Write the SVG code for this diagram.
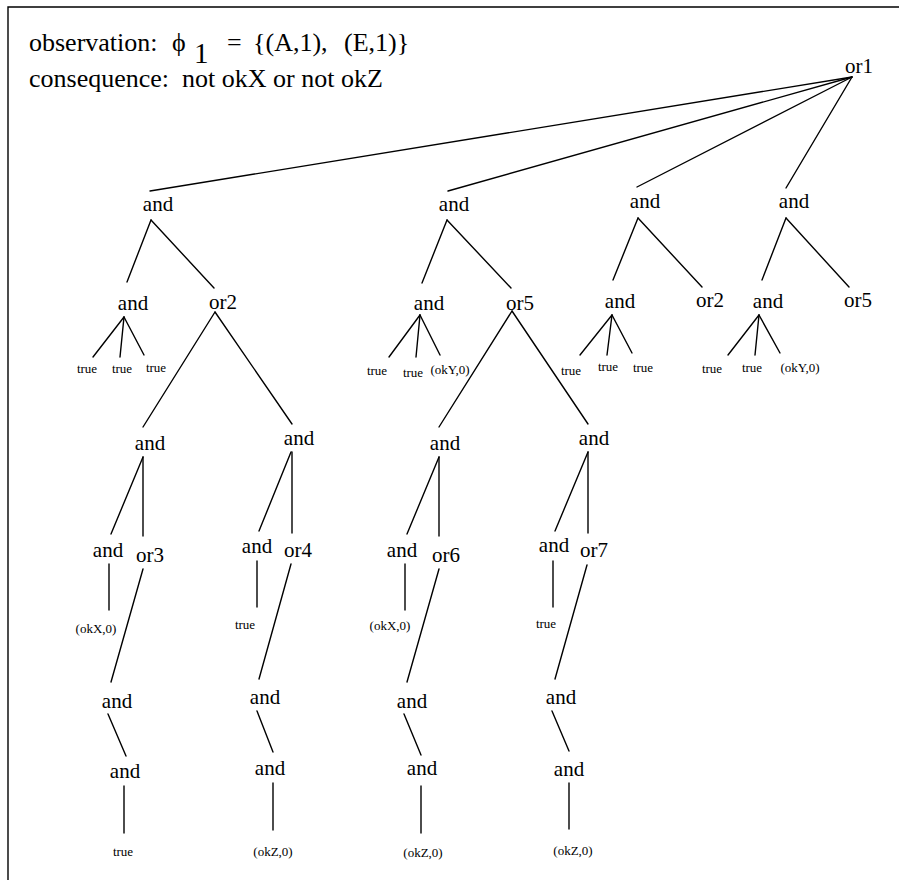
<svg xmlns="http://www.w3.org/2000/svg" width="899" height="880" viewBox="0 0 899 880">
<style>
.n{font-size:21px;text-anchor:middle}
.s{font-size:13px;text-anchor:middle}
.h{font-size:26px}
#edges line{stroke:#000;stroke-width:1.4;stroke-linecap:round}
</style>
<rect width="899" height="880" fill="#fff"/>
<g id="frame"><path d="M8,880 V7 H899" fill="none" stroke="#000" stroke-width="1.4"/></g>
<g font-family="'Liberation Serif', 'DejaVu Serif', 'Times New Roman', serif" fill="#000">
<g id="header">
<text class="h" x="29" y="51">observation:</text>
<text class="h" x="172" y="51">ϕ</text>
<text x="194" y="63" style="font-size:29px">1</text>
<text class="h" x="227" y="51">=</text>
<text class="h" x="253" y="51">{(A,1),</text>
<text class="h" x="344" y="51">(E,1)}</text>
<text class="h" x="29" y="87" xml:space="preserve">consequence:  not okX or not okZ</text>
</g>
<g id="or1"><text class="n" x="859" y="73">or1</text></g>
<g id="and-a1"><text class="n" x="158" y="211">and</text></g>
<g id="and-a2"><text class="n" x="454" y="211">and</text></g>
<g id="and-a3"><text class="n" x="645" y="208">and</text></g>
<g id="and-a4"><text class="n" x="794" y="208">and</text></g>
<g id="and-a1-1"><text class="n" x="133" y="310">and</text></g>
<g id="or2-a1"><text class="n" x="223" y="309">or2</text></g>
<g id="true-a1-1"><text class="s" x="87" y="373">true</text></g>
<g id="true-a1-2"><text class="s" x="122" y="373">true</text></g>
<g id="true-a1-3"><text class="s" x="156" y="372">true</text></g>
<g id="and-or2-l"><text class="n" x="150" y="450">and</text></g>
<g id="and-or2-r"><text class="n" x="299" y="445">and</text></g>
<g id="and-l3a"><text class="n" x="108" y="557">and</text></g>
<g id="or3"><text class="n" x="150" y="562">or3</text></g>
<g id="okx-1"><text class="s" x="96" y="633">(okX,0)</text></g>
<g id="and-or3-1"><text class="n" x="117" y="708">and</text></g>
<g id="and-or3-2"><text class="n" x="125" y="778">and</text></g>
<g id="true-or3"><text class="s" x="123" y="856">true</text></g>
<g id="and-l3b"><text class="n" x="257" y="553">and</text></g>
<g id="or4"><text class="n" x="298" y="557">or4</text></g>
<g id="true-l3b"><text class="s" x="245" y="629">true</text></g>
<g id="and-or4-1"><text class="n" x="265" y="704">and</text></g>
<g id="and-or4-2"><text class="n" x="270" y="775">and</text></g>
<g id="okz-or4"><text class="s" x="273" y="856">(okZ,0)</text></g>
<g id="and-a2-1"><text class="n" x="429" y="310">and</text></g>
<g id="or5-a2"><text class="n" x="520" y="310">or5</text></g>
<g id="true-a2-1"><text class="s" x="377" y="375">true</text></g>
<g id="true-a2-2"><text class="s" x="413" y="377">true</text></g>
<g id="oky-a2"><text class="s" x="450" y="374">(okY,0)</text></g>
<g id="and-or5-l"><text class="n" x="445" y="450">and</text></g>
<g id="and-or5-r"><text class="n" x="594" y="445">and</text></g>
<g id="and-l3c"><text class="n" x="402" y="557">and</text></g>
<g id="or6"><text class="n" x="446" y="562">or6</text></g>
<g id="okx-2"><text class="s" x="390" y="630">(okX,0)</text></g>
<g id="and-or6-1"><text class="n" x="412" y="708">and</text></g>
<g id="and-or6-2"><text class="n" x="422" y="775">and</text></g>
<g id="okz-or6"><text class="s" x="423" y="857">(okZ,0)</text></g>
<g id="and-l3d"><text class="n" x="554" y="552">and</text></g>
<g id="or7"><text class="n" x="594" y="557">or7</text></g>
<g id="true-l3d"><text class="s" x="546" y="628">true</text></g>
<g id="and-or7-1"><text class="n" x="561" y="704">and</text></g>
<g id="and-or7-2"><text class="n" x="569" y="776">and</text></g>
<g id="okz-or7"><text class="s" x="573" y="855">(okZ,0)</text></g>
<g id="and-a3-1"><text class="n" x="620" y="308">and</text></g>
<g id="or2-a3"><text class="n" x="710" y="307">or2</text></g>
<g id="true-a3-1"><text class="s" x="571" y="375">true</text></g>
<g id="true-a3-2"><text class="s" x="608" y="371">true</text></g>
<g id="true-a3-3"><text class="s" x="643" y="372">true</text></g>
<g id="and-a4-1"><text class="n" x="768" y="308">and</text></g>
<g id="or5-a4"><text class="n" x="858" y="307">or5</text></g>
<g id="true-a4-1"><text class="s" x="712" y="373">true</text></g>
<g id="true-a4-2"><text class="s" x="752" y="372">true</text></g>
<g id="oky-a4"><text class="s" x="800" y="372">(okY,0)</text></g>
</g>
<g id="edges">
<line x1="852" y1="77" x2="150" y2="191"/>
<line x1="852" y1="77" x2="448" y2="191"/>
<line x1="852" y1="77" x2="637" y2="187"/>
<line x1="852" y1="77" x2="786" y2="188"/>
<line x1="151" y1="220" x2="127" y2="282"/>
<line x1="151" y1="220" x2="214" y2="288"/>
<line x1="124" y1="317" x2="93" y2="357"/>
<line x1="124" y1="317" x2="120" y2="357"/>
<line x1="124" y1="317" x2="144" y2="355"/>
<line x1="215" y1="312" x2="143" y2="427"/>
<line x1="215" y1="312" x2="292" y2="424"/>
<line x1="143" y1="457" x2="111" y2="534"/>
<line x1="143" y1="457" x2="143" y2="536"/>
<line x1="109" y1="564" x2="109" y2="610"/>
<line x1="143" y1="569" x2="111" y2="682"/>
<line x1="108" y1="714" x2="126" y2="756"/>
<line x1="124" y1="786" x2="124" y2="833"/>
<line x1="291" y1="452" x2="259" y2="531"/>
<line x1="292" y1="452" x2="292" y2="533"/>
<line x1="257" y1="561" x2="257" y2="607"/>
<line x1="291" y1="564" x2="259" y2="679"/>
<line x1="257" y1="711" x2="273" y2="752"/>
<line x1="273" y1="783" x2="273" y2="830"/>
<line x1="447" y1="220" x2="422" y2="283"/>
<line x1="447" y1="220" x2="511" y2="288"/>
<line x1="420" y1="315" x2="389" y2="357"/>
<line x1="420" y1="315" x2="416" y2="357"/>
<line x1="420" y1="315" x2="440" y2="355"/>
<line x1="512" y1="311" x2="439" y2="427"/>
<line x1="512" y1="311" x2="588" y2="424"/>
<line x1="439" y1="457" x2="407" y2="534"/>
<line x1="439" y1="457" x2="439" y2="536"/>
<line x1="405" y1="564" x2="405" y2="610"/>
<line x1="439" y1="569" x2="407" y2="682"/>
<line x1="404" y1="714" x2="421" y2="755"/>
<line x1="421" y1="786" x2="421" y2="833"/>
<line x1="588" y1="452" x2="555" y2="531"/>
<line x1="588" y1="452" x2="588" y2="533"/>
<line x1="553" y1="561" x2="553" y2="607"/>
<line x1="587" y1="565" x2="555" y2="679"/>
<line x1="552" y1="711" x2="569" y2="751"/>
<line x1="569" y1="783" x2="569" y2="829"/>
<line x1="638" y1="218" x2="613" y2="280"/>
<line x1="638" y1="218" x2="702" y2="287"/>
<line x1="612" y1="315" x2="580" y2="355"/>
<line x1="612" y1="315" x2="607" y2="355"/>
<line x1="612" y1="315" x2="632" y2="353"/>
<line x1="786" y1="218" x2="762" y2="280"/>
<line x1="786" y1="218" x2="849" y2="287"/>
<line x1="759" y1="315" x2="728" y2="355"/>
<line x1="759" y1="315" x2="755" y2="355"/>
<line x1="759" y1="315" x2="780" y2="353"/>
</g>
</svg>
